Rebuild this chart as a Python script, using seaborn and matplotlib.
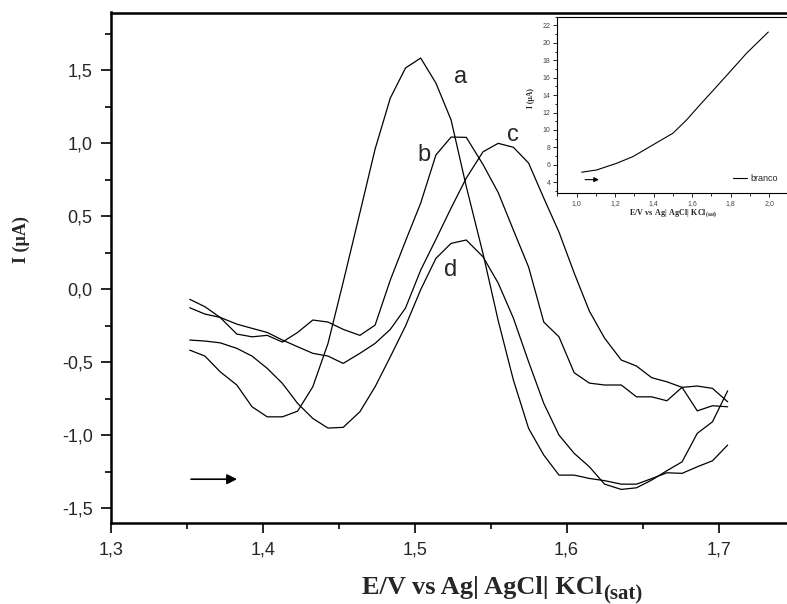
import numpy as np
import pandas as pd
import matplotlib
matplotlib.use("Agg")
import matplotlib.pyplot as plt
from matplotlib.ticker import MultipleLocator, FuncFormatter
import seaborn as sns

# potential (V) - same sweep for every curve
potential = [1.352, 1.362, 1.372, 1.383, 1.393, 1.403, 1.413, 1.423, 1.433, 1.443,
             1.453, 1.464, 1.474, 1.484, 1.494, 1.504, 1.514, 1.524, 1.534, 1.545,
             1.555, 1.565, 1.575, 1.585, 1.595, 1.605, 1.615, 1.625, 1.636, 1.646,
             1.656, 1.666, 1.676, 1.686, 1.696, 1.706]

# current (uA)
curve_a = [-0.416, -0.457, -0.564, -0.655, -0.804, -0.873, -0.873, -0.834, -0.667, -0.370,
           0.050, 0.525, 0.961, 1.310, 1.516, 1.584, 1.413, 1.160, 0.704, 0.245,
           -0.214, -0.621, -0.952, -1.135, -1.272, -1.272, -1.295, -1.310, -1.334, -1.334,
           -1.296, -1.256, -1.260, -1.215, -1.174, -1.066]
curve_b = [-0.068, -0.119, -0.192, -0.306, -0.325, -0.315, -0.361, -0.295, -0.210, -0.224,
           -0.274, -0.315, -0.245, 0.064, 0.331, 0.591, 0.920, 1.043, 1.041, 0.855,
           0.663, 0.406, 0.153, -0.224, -0.325, -0.571, -0.642, -0.655, -0.655, -0.736,
           -0.736, -0.763, -0.671, -0.662, -0.678, -0.770]
curve_c = [-0.126, -0.169, -0.192, -0.238, -0.267, -0.295, -0.347, -0.393, -0.438, -0.457,
           -0.507, -0.438, -0.370, -0.274, -0.128, 0.132, 0.342, 0.557, 0.762, 0.942,
           1.000, 0.973, 0.865, 0.625, 0.392, 0.112, -0.149, -0.334, -0.484, -0.525,
           -0.605, -0.633, -0.671, -0.832, -0.797, -0.804]
curve_d = [-0.347, -0.354, -0.366, -0.404, -0.457, -0.541, -0.644, -0.781, -0.884, -0.950,
           -0.945, -0.838, -0.667, -0.462, -0.251, -0.002, 0.212, 0.315, 0.338, 0.223,
           0.043, -0.197, -0.496, -0.781, -0.998, -1.123, -1.215, -1.334, -1.370, -1.359,
           -1.306, -1.242, -1.181, -0.986, -0.907, -0.695]
curve_names = ["a", "b", "c", "d"]
label_x = [1.530, 1.506, 1.565, 1.524]
label_y = [1.456, 0.920, 1.057, 0.132]
main_xticks = [1.3, 1.4, 1.5, 1.6, 1.7]

# inset: blank (branco)
blank_E = [1.026, 1.104, 1.208, 1.292, 1.396, 1.500, 1.571, 1.640, 1.727, 1.797, 1.883, 1.995]
blank_I = [5.15, 5.41, 6.18, 6.94, 8.29, 9.63, 11.16, 12.88, 14.99, 16.71, 18.83, 21.24]
inset_xticks = [1.0, 1.2, 1.4, 1.6, 1.8, 2.0]

sns.set_style("ticks")
plt.rcParams["font.family"] = ["Liberation Sans", "DejaVu Sans"]
plt.rcParams["mathtext.fontset"] = "custom"
plt.rcParams["mathtext.rm"] = "Liberation Serif"
plt.rcParams["mathtext.bf"] = "Liberation Serif:bold"

rows = []
for name, vals in zip(curve_names, [curve_a, curve_b, curve_c, curve_d]):
    for e, i in zip(potential, vals):
        rows.append({"E": e, "I": i, "curve": name})
df = pd.DataFrame(rows)

W, H = 787, 604
fig = plt.figure(figsize=(W / 100, H / 100), dpi=100)

def comma(v, pos):
    return f"{v:.1f}".replace(".", ",")

# main axes (right side runs past the crop like the original)
ax = fig.add_axes([110.7 / W, (H - 523) / H, 775 / W, (523 - 12.5) / H])
sns.lineplot(data=df, x="E", y="I", units="curve", estimator=None, color="black",
             lw=0.9, ax=ax, legend=False)
ax.set_xlim(1.3, 1.81)
ax.set_ylim(-1.6, 1.896)
ax.set_xticks(main_xticks)
ax.xaxis.set_minor_locator(MultipleLocator(0.05))
ax.yaxis.set_major_locator(MultipleLocator(0.5))
ax.yaxis.set_minor_locator(MultipleLocator(0.25))
ax.xaxis.set_major_formatter(FuncFormatter(comma))
ax.yaxis.set_major_formatter(FuncFormatter(comma))
ax.tick_params(which="major", direction="out", length=7, width=1.4, labelsize=13, pad=6)
ax.tick_params(which="minor", direction="out", length=4, width=1.4)
for s in ax.spines.values():
    s.set_linewidth(1.8)
    s.set_color("black")
ax.spines["right"].set_visible(False)
ax.set_xlabel("")

# x label with a big subscript, centred on x = 502 px
serif = ["Liberation Serif", "DejaVu Serif"]
renderer = fig.canvas.get_renderer()
base_y = 10 / H
t_main = fig.text(0, base_y, "E/V vs Ag| AgCl| KCl", fontsize=19, fontweight="bold",
                  family=serif, ha="left", va="baseline")
t_sub = fig.text(0, base_y - 5 / H, "(sat)", fontsize=15, fontweight="bold",
                 family=serif, ha="left", va="baseline")
w_main = t_main.get_window_extent(renderer).width
w_sub = t_sub.get_window_extent(renderer).width
x0 = 502 - (w_main + w_sub) / 2
t_main.set_x(x0 / W)
t_sub.set_x((x0 + w_main + 1) / W)

ax.set_ylabel("I (µA)", fontsize=13, fontweight="bold", family=serif)
ax.yaxis.set_label_coords(30 / W, 1 - 240 / H, transform=fig.transFigure)

for name, lx, ly in zip(curve_names, label_x, label_y):
    ax.text(lx, ly, name, fontsize=17, ha="center", va="center")

ax.annotate("", xy=(1.385, -1.30), xytext=(1.351, -1.30),
            arrowprops=dict(arrowstyle="-|>", color="black", lw=1.2, mutation_scale=15))

# inset
ins = fig.add_axes([557.4 / W, (H - 192.7) / H, 250.4 / W, (192.7 - 16.7) / H])
ins.set_facecolor("white")
sns.lineplot(x=blank_E, y=blank_I, color="black", lw=0.8, ax=ins, label="branco")
ins.set_xlim(0.9, 2.2)
ins.set_ylim(2.8, 23.0)
ins.set_xticks(inset_xticks)
ins.xaxis.set_minor_locator(MultipleLocator(0.1))
ins.yaxis.set_major_locator(MultipleLocator(2))
ins.yaxis.set_minor_locator(MultipleLocator(1))
ins.xaxis.set_major_formatter(FuncFormatter(comma))
ins.tick_params(which="major", direction="out", length=3, width=0.7, labelsize=5,
                labelcolor="#444444", pad=2)
ins.tick_params(which="minor", direction="out", length=1.8, width=0.7)
for s in ins.spines.values():
    s.set_linewidth(0.8)
    s.set_color("black")
ins.set_xlabel(r"$\mathbf{E/V\ vs\ Ag|\ AgCl|\ KCl_{(sat)}}$", fontsize=5.8)
ins.xaxis.set_label_coords(673 / W, 1 - 207.5 / H, transform=fig.transFigure)
ins.set_ylabel("I (µA)", fontsize=5.5, fontweight="bold", family=serif)
ins.yaxis.set_label_coords(535 / W, 1 - 98 / H, transform=fig.transFigure)
ins.legend(loc="center left", bbox_to_anchor=(0.70, 0.08), frameon=False, fontsize=6.5,
           handlelength=1.6, handletextpad=0.4, borderpad=0, borderaxespad=0)
ins.annotate("", xy=(1.13, 4.3), xytext=(1.03, 4.3),
             arrowprops=dict(arrowstyle="-|>", color="black", lw=0.8, mutation_scale=7))

fig.savefig("out.png", dpi=100)
